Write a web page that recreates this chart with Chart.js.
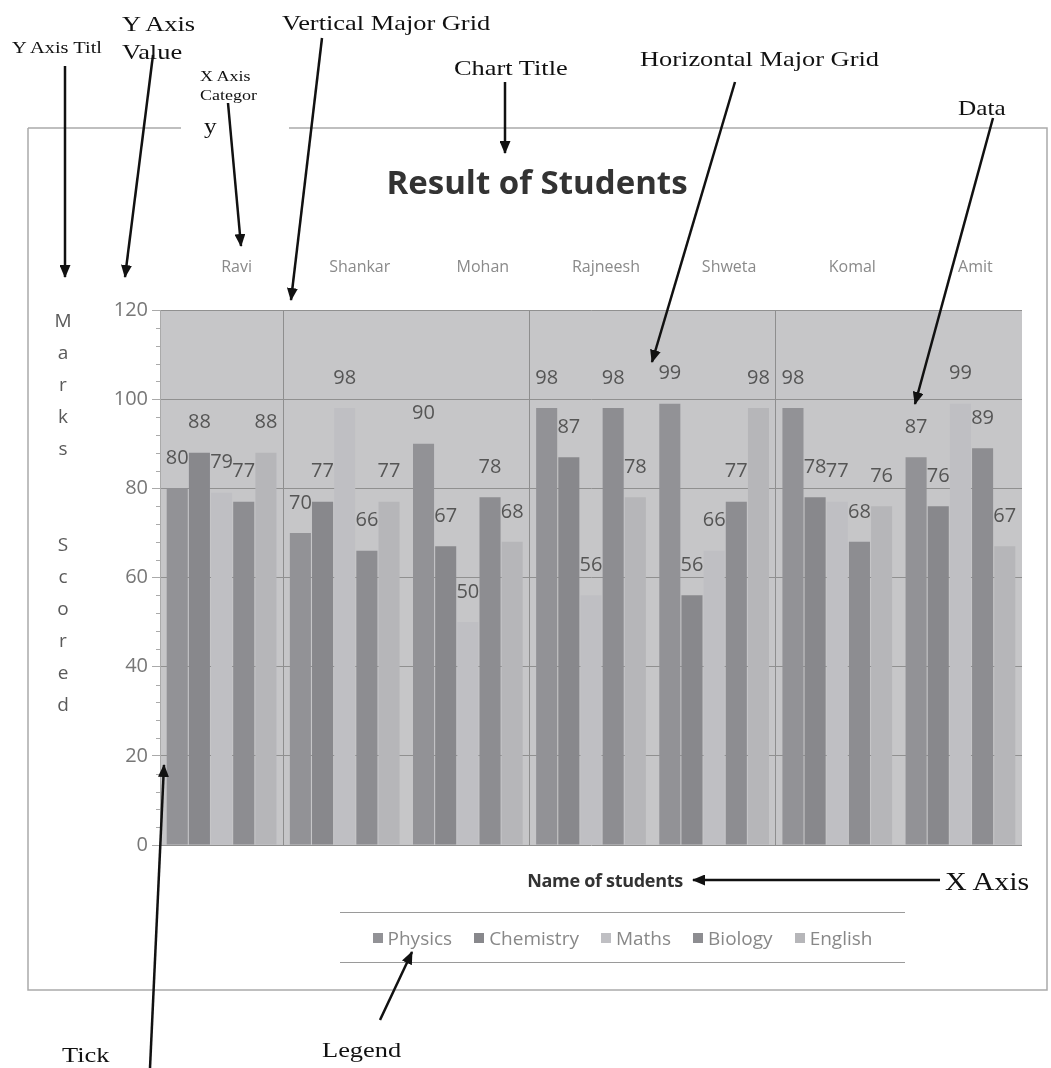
<!DOCTYPE html>
<html>
<head>
<meta charset="utf-8">
<title>Result of Students</title>
<script src="https://cdn.jsdelivr.net/npm/chart.js@4.4.0/dist/chart.umd.min.js"></script>
<style>
    body { margin: 0; background: #fff; }
    #page { position: relative; width: 1051px; height: 1068px; overflow: hidden; font-family: "Liberation Serif", serif; }
    #chart { position: absolute; left: 0; top: 0; }
    #overlay { position: absolute; left: 0; top: 0; pointer-events: none; }
    .note { position: absolute; color: #111; white-space: nowrap; line-height: 1; transform: scaleX(1.2); transform-origin: left top; }
    #yTitle { position: absolute; left: 53px; top: 304px; width: 20px; text-align: center; font: 19px "Open Sans", sans-serif; line-height: 32px; color: #5a5a5a; }
    #xTitle { position: absolute; left: 485px; top: 868px; width: 240px; text-align: center; font: bold 18px "Open Sans", sans-serif; color: #333; letter-spacing: -0.3px; }
    #legend { position: absolute; left: 340px; top: 912px; width: 565px; height: 49px; border-top: 1.5px solid #9a9a9a; border-bottom: 1.5px solid #9a9a9a;
              display: flex; justify-content: center; align-items: center; gap: 22px; font: 19px "Open Sans", sans-serif; color: #888; }
    #legend span.sw { display: inline-block; width: 10px; height: 10px; margin-right: 5px; vertical-align: 2px; }
</style>
</head>
<body>
<div id="page">
    <canvas id="chart" width="1051" height="1068"></canvas>

    <div id="yTitle">M<br>a<br>r<br>k<br>s<br>&nbsp;<br>&nbsp;<br>S<br>c<br>o<br>r<br>e<br>d</div>
    <div id="xTitle">Name of students</div>
    <div id="legend"></div>

    <div class="note" style="left:12px;top:39px;font-size:17px">Y Axis Titl</div>
    <div class="note" style="left:122px;top:13px;font-size:22px">Y Axis</div>
    <div class="note" style="left:122px;top:41px;font-size:22px">Value</div>
    <div class="note" style="left:200px;top:69px;font-size:15px">X Axis</div>
    <div class="note" style="left:200px;top:88px;font-size:15px">Categor</div>
    <div class="note" style="left:204px;top:116px;font-size:21px">y</div>
    <div class="note" style="left:282px;top:12px;font-size:22px">Vertical Major Grid</div>
    <div class="note" style="left:454px;top:57px;font-size:22px">Chart Title</div>
    <div class="note" style="left:640px;top:48px;font-size:22px">Horizontal Major Grid</div>
    <div class="note" style="left:958px;top:98px;font-size:21px">Data</div>
    <div class="note" style="left:945px;top:869px;font-size:25px">X Axis</div>
    <div class="note" style="left:62px;top:1044px;font-size:22px">Tick</div>
    <div class="note" style="left:322px;top:1039px;font-size:22px">Legend</div>

    <svg id="overlay" width="1051" height="1068">
        <defs>
            <marker id="head" markerWidth="13" markerHeight="11" refX="12" refY="5.5" orient="auto" markerUnits="userSpaceOnUse">
                <path d="M0,0 L13,5.5 L0,11 z" fill="#111"/>
            </marker>
        </defs>
        <path d="M28,128 H181 M289,128 H1047 V990 H28 V128" fill="none" stroke="#aaa" stroke-width="1.5"/>
        <g stroke="#111" stroke-width="2.5" marker-end="url(#head)">
            <line x1="65" y1="66" x2="65" y2="277"/>
            <line x1="153" y1="55" x2="125" y2="277"/>
            <line x1="228" y1="103" x2="241" y2="246"/>
            <line x1="322" y1="38" x2="291" y2="300"/>
            <line x1="505" y1="82" x2="505" y2="153"/>
            <line x1="735" y1="82" x2="652" y2="362"/>
            <line x1="993" y1="118" x2="915" y2="404"/>
            <line x1="940" y1="880" x2="693" y2="880"/>
            <line x1="150" y1="1068" x2="164" y2="765"/>
            <line x1="380" y1="1020" x2="412" y2="952"/>
        </g>
    </svg>
</div>

<script>
const students = ['Ravi', 'Shankar', 'Mohan', 'Rajneesh', 'Shweta', 'Komal', 'Amit'];
const physics = [80, 70, 90, 98, 99, 98, 87];
const chemistry = [88, 77, 67, 87, 56, 78, 76];
const maths = [79, 98, 50, 56, 66, 77, 99];
const biology = [77, 66, 78, 98, 77, 68, 89];
const english = [88, 77, 68, 78, 98, 76, 67];
const yTicks = [0, 20, 40, 60, 80, 100, 120];

// plot background
const plotBg = {
    id: 'plotBg',
    beforeDraw(chart) {
        const { ctx, chartArea: a } = chart;
        ctx.save();
        ctx.fillStyle = '#c6c6c8';
        ctx.fillRect(a.left, a.top, a.right - a.left, a.bottom - a.top);
        ctx.restore();
    }
};

// small ticks between the major ones on the value axis
const minorTicks = {
    id: 'minorTicks',
    afterDraw(chart) {
        const y = chart.scales.y;
        const ctx = chart.ctx;
        ctx.save();
        ctx.strokeStyle = '#aaa';
        ctx.lineWidth = 1;
        for (let v = 0; v <= 120; v += 4) {
            if (v % 20 === 0) continue;
            const py = Math.round(y.getPixelForValue(v)) + 0.5;
            ctx.beginPath();
            ctx.moveTo(chart.chartArea.left - 4, py);
            ctx.lineTo(chart.chartArea.left, py);
            ctx.stroke();
        }
        ctx.restore();
    }
};

// value above every bar
const valueLabels = {
    id: 'valueLabels',
    afterDatasetsDraw(chart) {
        const ctx = chart.ctx;
        ctx.save();
        ctx.font = '20px "Open Sans", sans-serif';
        ctx.fillStyle = '#555';
        ctx.textAlign = 'center';
        ctx.textBaseline = 'middle';
        chart.data.datasets.forEach((ds, i) => {
            chart.getDatasetMeta(i).data.forEach((bar, j) => {
                ctx.fillText(ds.data[j], bar.x, bar.y - 30);
            });
        });
        ctx.restore();
    }
};

const barOpts = { borderWidth: 0, categoryPercentage: 0.9, barPercentage: 0.95 };

const chart = new Chart(document.getElementById('chart'), {
    type: 'bar',
    data: {
        labels: students,
        datasets: [
            { label: 'Physics', data: physics, backgroundColor: '#929296', ...barOpts },
            { label: 'Chemistry', data: chemistry, backgroundColor: '#88888c', ...barOpts },
            { label: 'Maths', data: maths, backgroundColor: '#bfbfc3', ...barOpts },
            { label: 'Biology', data: biology, backgroundColor: '#8d8d91', ...barOpts },
            { label: 'English', data: english, backgroundColor: '#b6b6b9', ...barOpts },
        ]
    },
    plugins: [plotBg, minorTicks, valueLabels],
    options: {
        responsive: false,
        animation: false,
        layout: { padding: { left: 52, top: 165, right: 29, bottom: 223 } },
        plugins: {
            legend: { display: false },
            tooltip: { enabled: false },
            title: {
                display: true,
                text: 'Result of Students',
                color: '#333',
                font: { family: '"Open Sans", sans-serif', size: 33, weight: 'bold' },
                padding: 0
            }
        },
        scales: {
            x: {
                position: 'top',
                offset: true,
                afterFit: s => { s.height = 105.4; },
                grid: {
                    offset: true,
                    drawTicks: false,
                    color: ctx => [1, 3, 5].includes(ctx.index) ? '#8e8e8e' : 'rgba(0,0,0,0)'
                },
                border: { display: false },
                ticks: {
                    color: '#8a8a8a',
                    padding: 33,
                    labelOffset: 15,
                    font: { family: '"Open Sans", sans-serif', size: 16 }
                }
            },
            y: {
                min: 0,
                max: 120,
                afterFit: s => { s.width = 108; },
                afterBuildTicks: s => { s.ticks = yTicks.map(v => ({ value: v })); },
                grid: { color: '#909090', tickLength: 8, tickColor: '#aaa' },
                border: { color: '#aaa' },
                ticks: {
                    color: '#777',
                    padding: 4,
                    font: { family: '"Open Sans", sans-serif', size: 20 }
                }
            }
        }
    }
});

// legend built from the chart's datasets
document.getElementById('legend').innerHTML = chart.data.datasets.map(ds =>
    `<div><span class="sw" style="background:${ds.backgroundColor}"></span>${ds.label}</div>`
).join('');
</script>
</body>
</html>
